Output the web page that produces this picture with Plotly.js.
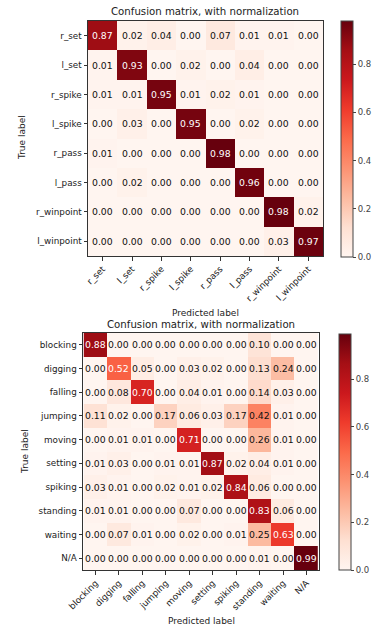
<!DOCTYPE html>
<html>
<head>
<meta charset="utf-8">
<script src="https://cdn.plot.ly/plotly-3.0.1.min.js"></script>
<style>html,body{margin:0;padding:0;background:#fff;}#chart{width:375px;height:628px;}</style>
</head>
<body>
<div id="chart"></div>
<script>
// ---- Data ----
var labelsA = ["r_set","l_set","r_spike","l_spike","r_pass","l_pass","r_winpoint","l_winpoint"];
var matrixA = [
  [0.87,0.02,0.04,0.00,0.07,0.01,0.01,0.00],
  [0.01,0.93,0.00,0.02,0.00,0.04,0.00,0.00],
  [0.01,0.01,0.95,0.01,0.02,0.01,0.00,0.00],
  [0.00,0.03,0.00,0.95,0.00,0.02,0.00,0.00],
  [0.01,0.00,0.00,0.00,0.98,0.00,0.00,0.00],
  [0.00,0.02,0.00,0.00,0.00,0.96,0.00,0.00],
  [0.00,0.00,0.00,0.00,0.00,0.00,0.98,0.02],
  [0.00,0.00,0.00,0.00,0.00,0.00,0.03,0.97]
];
var labelsB = ["blocking","digging","falling","jumping","moving","setting","spiking","standing","waiting","N/A"];
var matrixB = [
  [0.88,0.00,0.00,0.00,0.00,0.00,0.00,0.10,0.00,0.00],
  [0.00,0.52,0.05,0.00,0.03,0.02,0.00,0.13,0.24,0.00],
  [0.00,0.08,0.70,0.00,0.04,0.01,0.00,0.14,0.03,0.00],
  [0.11,0.02,0.00,0.17,0.06,0.03,0.17,0.42,0.01,0.00],
  [0.00,0.01,0.01,0.00,0.71,0.00,0.00,0.26,0.01,0.00],
  [0.01,0.03,0.00,0.01,0.01,0.87,0.02,0.04,0.01,0.00],
  [0.03,0.01,0.00,0.02,0.01,0.02,0.84,0.06,0.00,0.00],
  [0.01,0.01,0.00,0.00,0.07,0.00,0.00,0.83,0.06,0.00],
  [0.00,0.07,0.01,0.00,0.02,0.00,0.01,0.25,0.63,0.00],
  [0.00,0.00,0.00,0.00,0.00,0.00,0.00,0.01,0.00,0.99]
];
var cbTickVals = [0, 0.2, 0.4, 0.6, 0.8];
var cbTickText = ["0.0","0.2","0.4","0.6","0.8"];
var titleText = "Confusion matrix, with normalization";
var xTitle = "Predicted label";
var yTitle = "True label";

// ---- Style ----
var FONT = "DejaVu Sans, sans-serif";
var reds = [
  [0.0,"#fff5f0"],[0.125,"#fee0d2"],[0.25,"#fcbba1"],[0.375,"#fc9272"],
  [0.5,"#fb6a4a"],[0.625,"#ef3b2c"],[0.75,"#cb181d"],[0.875,"#a50f15"],[1.0,"#67000d"]
];
var W = 375, H = 628;
function px(x){ return x / W; }
function py(y){ return 1 - y / H; }

function maxOf(m){ var v = 0; m.forEach(function(r){ r.forEach(function(c){ if (c > v) v = c; }); }); return v; }

var maxA = maxOf(matrixA), maxB = maxOf(matrixB);

var traces = [
  {
    type: "heatmap", x: labelsA, y: labelsA, z: matrixA,
    xaxis: "x", yaxis: "y", colorscale: reds, zmin: 0, zmax: maxA,
    hoverinfo: "skip", xgap: 0, ygap: 0,
    colorbar: {
      x: px(341), xanchor: "left", xref: "paper",
      y: py(139), yanchor: "middle", yref: "paper",
      len: 236, lenmode: "pixels", thickness: 12, thicknessmode: "pixels",
      outlinecolor: "#444", outlinewidth: 1, borderwidth: 0,
      tickvals: cbTickVals, ticktext: cbTickText,
      ticks: "outside", ticklen: 3, tickwidth: 1, tickcolor: "#444",
      tickfont: {family: FONT, size: 8.5, color: "#444"}, xpad: 0, ypad: 0
    }
  },
  {
    type: "heatmap", x: labelsB, y: labelsB, z: matrixB,
    xaxis: "x2", yaxis: "y2", colorscale: reds, zmin: 0, zmax: maxB,
    hoverinfo: "skip",
    colorbar: {
      x: px(339), xanchor: "left", xref: "paper",
      y: py(452), yanchor: "middle", yref: "paper",
      len: 236, lenmode: "pixels", thickness: 12, thicknessmode: "pixels",
      outlinecolor: "#444", outlinewidth: 1, borderwidth: 0,
      tickvals: cbTickVals, ticktext: cbTickText,
      ticks: "outside", ticklen: 3, tickwidth: 1, tickcolor: "#444",
      tickfont: {family: FONT, size: 8.5, color: "#444"}, xpad: 0, ypad: 0
    }
  }
];

var annotations = [];
function addCells(labels, m, xr, yr, mx){
  var thresh = mx / 2;
  for (var i = 0; i < labels.length; i++){
    for (var j = 0; j < labels.length; j++){
      var v = m[i][j];
      annotations.push({
        xref: xr, yref: yr, x: labels[j], y: labels[i],
        text: v.toFixed(2), showarrow: false,
        font: {family: FONT, size: 9.3, color: v > thresh ? "#ffffff" : "#111111"}
      });
    }
  }
}
addCells(labelsA, matrixA, "x", "y", maxA);
addCells(labelsB, matrixB, "x2", "y2", maxB);

function txt(x, y, s, size, angle){
  annotations.push({xref: "paper", yref: "paper", x: px(x), y: py(y),
    xanchor: "center", yanchor: "middle", text: s, showarrow: false,
    textangle: angle || 0, font: {family: FONT, size: size, color: "#222"}});
}
txt(205, 12, titleText, 10.2);
txt(201, 324, titleText, 10.2);
txt(205, 313, xTitle, 9);
txt(201, 621, xTitle, 9);
txt(22, 138, yTitle, 9, -90);
txt(25, 452, yTitle, 9, -90);

function axisCommon(extra){
  var a = {
    type: "category", showgrid: false, zeroline: false,
    showline: true, mirror: true, linecolor: "#333", linewidth: 1,
    ticks: "outside", ticklen: 3.5, tickwidth: 1, tickcolor: "#333",
    tickfont: {family: FONT, size: 8.8, color: "#222"}, fixedrange: true
  };
  for (var k in extra) a[k] = extra[k];
  return a;
}

var layout = {
  width: W, height: H, margin: {l: 0, r: 0, t: 0, b: 0},
  paper_bgcolor: "#ffffff", plot_bgcolor: "#ffffff",
  showlegend: false,
  xaxis: axisCommon({domain: [px(88), px(323)], anchor: "y", tickangle: -45}),
  yaxis: axisCommon({domain: [py(256), py(21)], anchor: "x", autorange: "reversed"}),
  xaxis2: axisCommon({domain: [px(83), px(319)], anchor: "y2", tickangle: -45}),
  yaxis2: axisCommon({domain: [py(570), py(333)], anchor: "x2", autorange: "reversed"}),
  annotations: annotations
};

Plotly.newPlot("chart", traces, layout, {displayModeBar: false, staticPlot: true});
</script>
</body>
</html>
